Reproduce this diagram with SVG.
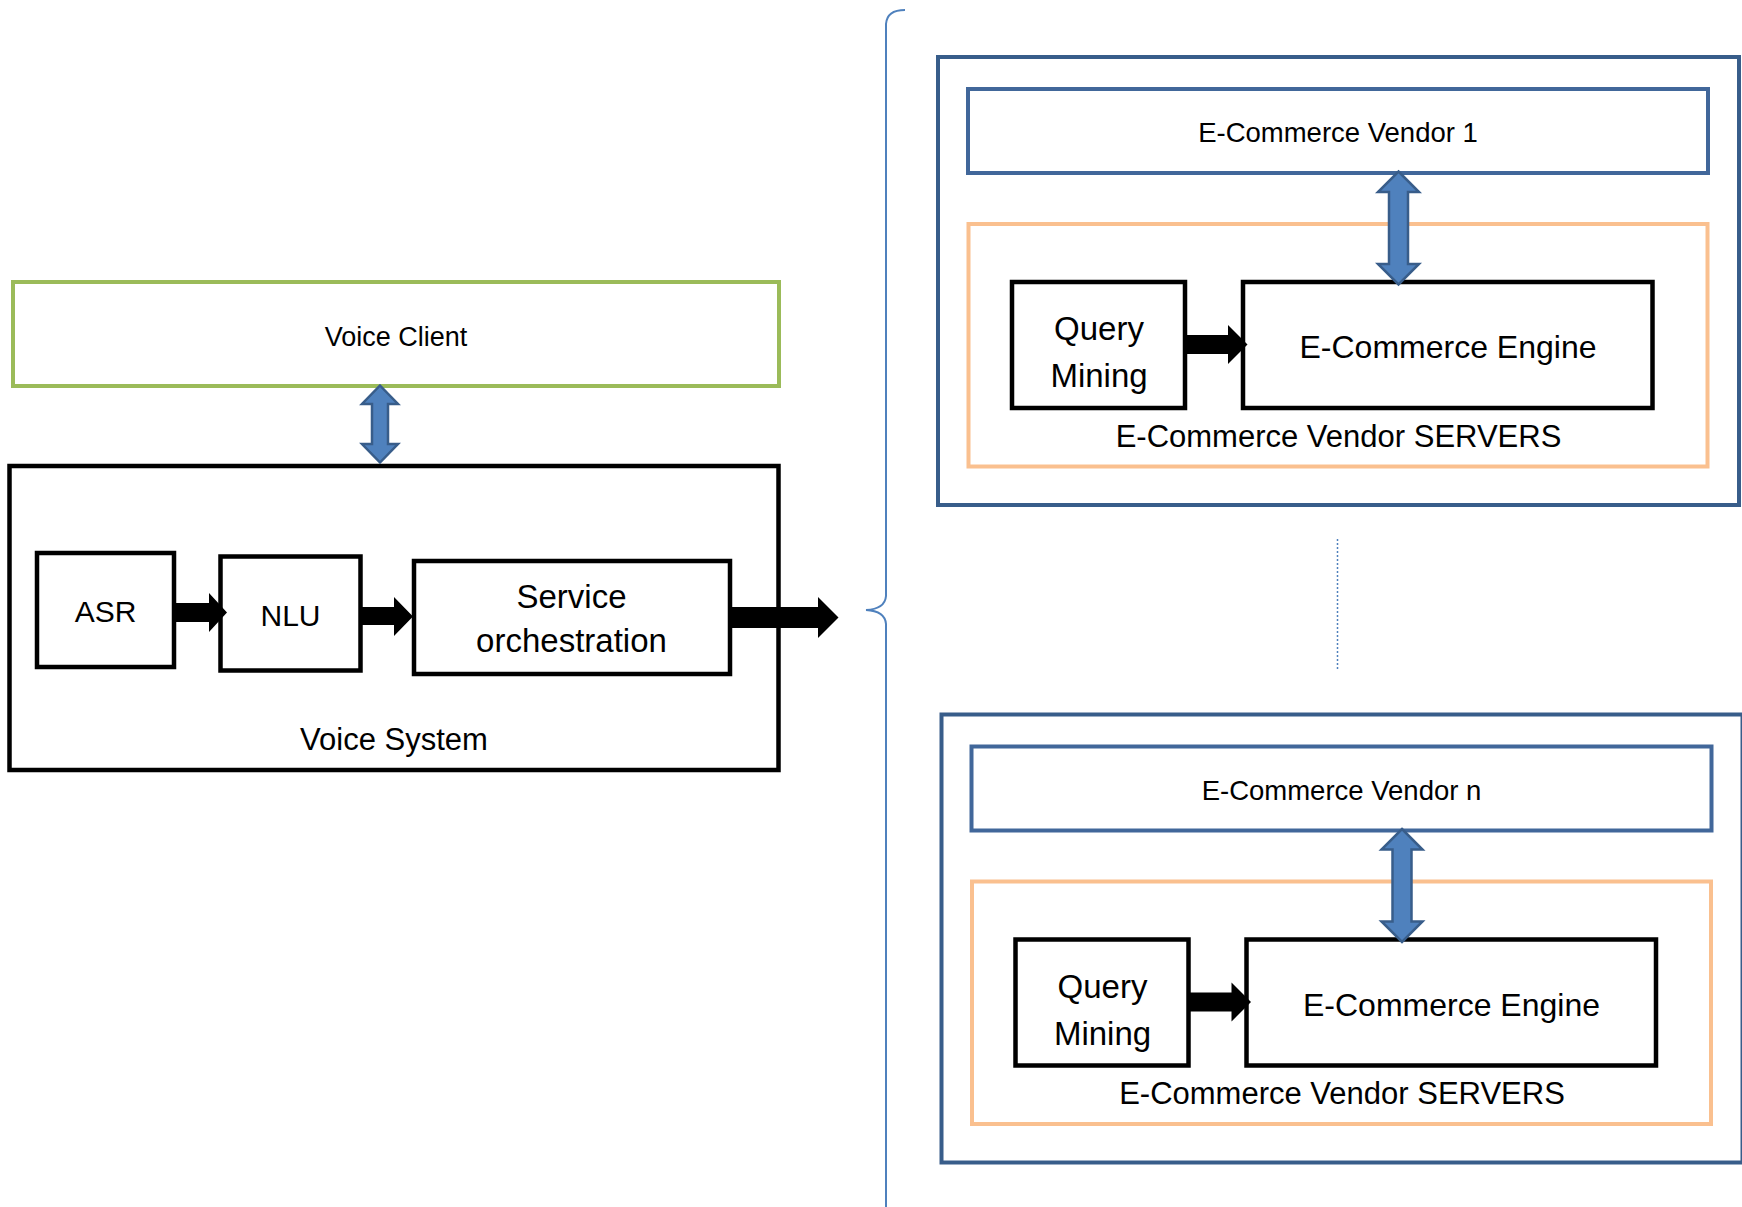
<svg xmlns="http://www.w3.org/2000/svg" width="1742" height="1207" viewBox="0 0 1742 1207">
  <style>
    .lbl { font-family: "Liberation Sans", Arial, sans-serif; fill: #000; text-anchor: middle; }
    .blk { fill: #fff; stroke: #000; stroke-width: 4.5; }
    .client { fill: #fff; stroke: #9BBB59; stroke-width: 4; }
    .outer { fill: #fff; stroke: #385D8A; stroke-width: 4; }
    .vendor { fill: #fff; stroke: #41679A; stroke-width: 4; }
    .servers { fill: none; stroke: #FAC08F; stroke-width: 4; }
    .flow { fill: #000; }
    .dbl { fill: #4F81BD; stroke: #385D8A; stroke-width: 2.5; stroke-linejoin: miter; }
    .brace { fill: none; stroke: #4F81BD; stroke-width: 2; }
  </style>
  <rect width="1742" height="1207" fill="#fff"/>

  <!-- Voice side -->
  <g id="voice-client">
    <rect class="client" x="13" y="282" width="766" height="104"/>
    <text class="lbl" x="396" y="346" font-size="27">Voice Client</text>
  </g>
  <g id="voice-system">
    <rect class="blk" x="9.5" y="466" width="769" height="304"/>
    <text class="lbl" x="394" y="750" font-size="31">Voice System</text>
  </g>
  <g id="asr">
    <rect class="blk" x="37" y="553" width="137" height="114"/>
    <text class="lbl" x="105.5" y="622" font-size="30">ASR</text>
  </g>
  <g id="nlu">
    <rect class="blk" x="220.5" y="556.5" width="140" height="114"/>
    <text class="lbl" x="290.5" y="625.5" font-size="30">NLU</text>
  </g>
  <g id="service-orchestration">
    <rect class="blk" x="414" y="561" width="316" height="113"/>
    <text class="lbl" x="571.5" y="608" font-size="33">Service</text>
    <text class="lbl" x="571.5" y="652" font-size="33">orchestration</text>
  </g>

  <!-- Vendor 1 -->
  <g id="vendor1-frame">
    <rect class="outer" x="938" y="57" width="801" height="448"/>
  </g>
  <g id="vendor1">
    <rect class="vendor" x="968" y="89" width="740" height="84"/>
    <text class="lbl" x="1338" y="142" font-size="27.5">E-Commerce Vendor 1</text>
  </g>
  <g id="vendor1-servers">
    <rect class="servers" x="968.5" y="224" width="739" height="242.5"/>
    <text class="lbl" x="1338.5" y="446.5" font-size="31">E-Commerce Vendor SERVERS</text>
  </g>
  <g id="vendor1-query-mining">
    <rect class="blk" x="1012" y="282" width="173" height="126"/>
    <text class="lbl" x="1099" y="340" font-size="33">Query</text>
    <text class="lbl" x="1099" y="387" font-size="33">Mining</text>
  </g>
  <g id="vendor1-engine">
    <rect class="blk" x="1243" y="282" width="409.5" height="126"/>
    <text class="lbl" x="1448" y="358" font-size="32">E-Commerce Engine</text>
  </g>

  <!-- Vendor n -->
  <g id="vendorn-frame">
    <rect class="outer" x="941.5" y="714.5" width="801" height="448"/>
  </g>
  <g id="vendorn">
    <rect class="vendor" x="971.5" y="746.5" width="740" height="84"/>
    <text class="lbl" x="1341.5" y="799.5" font-size="27.5">E-Commerce Vendor n</text>
  </g>
  <g id="vendorn-servers">
    <rect class="servers" x="972" y="881.5" width="739" height="242.5"/>
    <text class="lbl" x="1342" y="1104" font-size="31">E-Commerce Vendor SERVERS</text>
  </g>
  <g id="vendorn-query-mining">
    <rect class="blk" x="1015.5" y="939.5" width="173" height="126"/>
    <text class="lbl" x="1102.5" y="997.5" font-size="33">Query</text>
    <text class="lbl" x="1102.5" y="1044.5" font-size="33">Mining</text>
  </g>
  <g id="vendorn-engine">
    <rect class="blk" x="1246.5" y="939.5" width="409.5" height="126"/>
    <text class="lbl" x="1451.5" y="1015.5" font-size="32">E-Commerce Engine</text>
  </g>

  <!-- Connectors -->
  <g id="connectors">
    <!-- pipeline arrows -->
    <polygon class="flow" points="172,603 209,603 209,593 227,612.5 209,632 209,622 172,622"/>
    <polygon class="flow" points="359,607 394,607 394,597 413,616.5 394,636 394,625 359,625"/>
    <polygon class="flow" points="730,607 818,607 818,597 838.5,617.5 818,638 818,628 730,628"/>
    <polygon class="flow" points="1184,335 1228,335 1228,325 1247.5,344.5 1228,364 1228,354 1184,354"/>
    <polygon class="flow" points="1187.5,992.5 1231.5,992.5 1231.5,982.5 1251,1002 1231.5,1021.5 1231.5,1011.5 1187.5,1011.5"/>
    <!-- two-way links -->
    <polygon class="dbl" points="380,385.5 398,404 388,404 388,444 398,444 380,462.5 362,444 372,444 372,404 362,404"/>
    <polygon class="dbl" points="1398.5,171.5 1419,192 1408,192 1408,264 1419,264 1398.5,284.5 1378,264 1389,264 1389,192 1378,192"/>
    <polygon class="dbl" points="1402,829 1422.5,849.5 1411.5,849.5 1411.5,921.5 1422.5,921.5 1402,942 1381.5,921.5 1392.5,921.5 1392.5,849.5 1381.5,849.5"/>
    <!-- brace grouping the vendors -->
    <path class="brace" d="M905,10 Q887,10 886,24 L886,596 Q885,609 866,610 Q885,611 886,624 L886,1210"/>
    <!-- ellipsis between vendors -->
    <line x1="1337.5" y1="539" x2="1337.5" y2="671" stroke="#4F81BD" stroke-width="1.5" stroke-dasharray="2 2"/>
  </g>
</svg>
